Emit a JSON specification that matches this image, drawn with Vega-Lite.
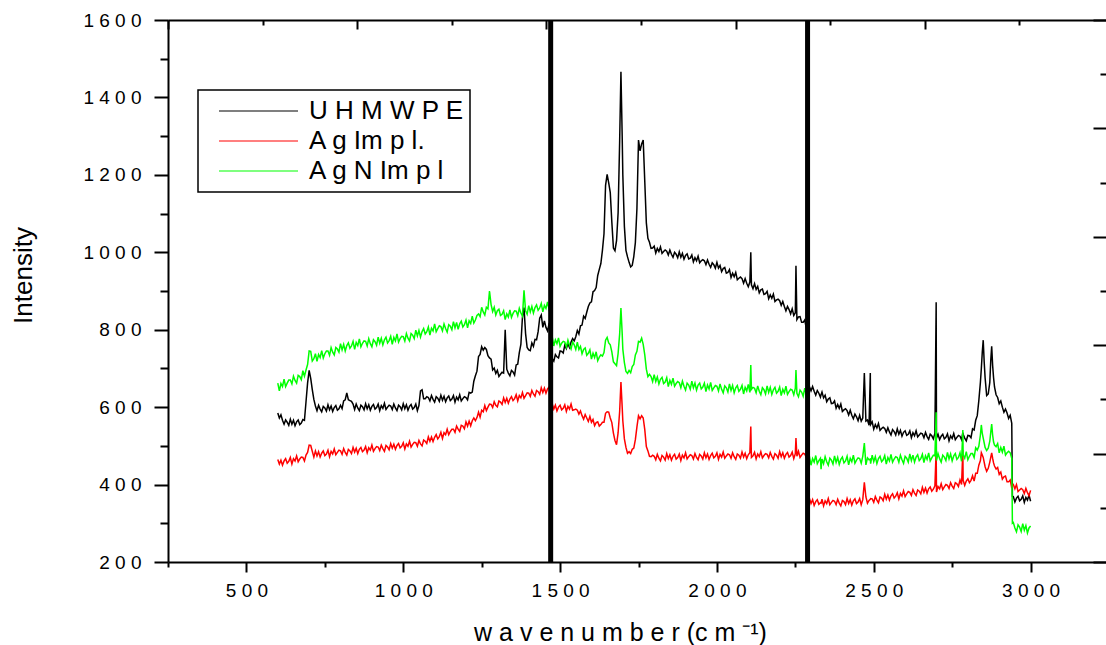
{
  "$schema": "https://vega.github.io/schema/vega-lite/v6.json",
  "width": 941,
  "height": 542,
  "autosize": "none",
  "padding": {"left": 168, "top": 20, "right": 0, "bottom": 83},
  "background": "white",
  "config": {
    "view": {"stroke": null},
    "axis": {"grid": false, "domainColor": "#000", "domainWidth": 2, "tickColor": "#000", "tickWidth": 2, "labelFont": "Liberation Sans", "labelFontSize": 19, "labelColor": "#000", "titleFont": "Liberation Sans", "titleFontWeight": "normal", "titleColor": "#000", "labelFlush": false, "labelOverlap": false},
    "legend": {"strokeWidth": 1.5}
  },
  "layer": [
    {
      "layer": [
        {
          "data": {"values": [
{"w":600,"U":585,"A":465,"G":662},{"w":605,"U":572,"A":453,"G":642},{"w":610,"U":580,"A":463,"G":661},{"w":615,"U":566,"A":450,"G":653},
{"w":620,"U":556,"A":461,"G":672},{"w":625,"U":567,"A":467,"G":653},{"w":630,"U":561,"A":455,"G":662},{"w":635,"U":553,"A":460,"G":670},
{"w":640,"U":569,"A":470,"G":670},{"w":645,"U":556,"A":453,"G":660},{"w":650,"U":566,"A":467,"G":680},{"w":655,"U":552,"A":461,"G":669},
{"w":660,"U":562,"A":474,"G":662},{"w":665,"U":567,"A":459,"G":682},{"w":670,"U":555,"A":466,"G":679},{"w":675,"U":559,"A":471,"G":671},
{"w":680,"U":568,"A":470,"G":694},{"w":685,"U":566,"A":461,"G":680},{"w":690,"U":614,"A":476,"G":696},{"w":695,"U":662,"A":483,"G":710},
{"w":700,"U":695,"A":502,"G":745},{"w":705,"U":674,"A":501,"G":744},{"w":710,"U":645,"A":486,"G":719},{"w":715,"U":620,"A":471,"G":725},
{"w":720,"U":603,"A":487,"G":738},{"w":725,"U":591,"A":474,"G":718},{"w":730,"U":605,"A":485,"G":736},{"w":735,"U":595,"A":471,"G":728},
{"w":740,"U":588,"A":481,"G":746},{"w":745,"U":602,"A":487,"G":727},{"w":750,"U":598,"A":475,"G":738},{"w":755,"U":590,"A":479,"G":745},
{"w":760,"U":606,"A":489,"G":745},{"w":765,"U":593,"A":472,"G":734},{"w":770,"U":603,"A":486,"G":754},{"w":775,"U":589,"A":479,"G":742},
{"w":780,"U":599,"A":492,"G":735},{"w":785,"U":604,"A":477,"G":754},{"w":790,"U":592,"A":483,"G":750},{"w":795,"U":596,"A":489,"G":742},
{"w":800,"U":605,"A":487,"G":764},{"w":805,"U":596,"A":478,"G":748},{"w":810,"U":616,"A":493,"G":762},{"w":815,"U":619,"A":483,"G":745},
{"w":820,"U":637,"A":476,"G":759},{"w":825,"U":619,"A":491,"G":766},{"w":830,"U":617,"A":487,"G":752},{"w":835,"U":615,"A":480,"G":758},
{"w":840,"U":608,"A":496,"G":770},{"w":845,"U":594,"A":484,"G":749},{"w":850,"U":608,"A":494,"G":767},{"w":855,"U":598,"A":480,"G":759},
{"w":860,"U":591,"A":491,"G":776},{"w":865,"U":605,"A":496,"G":756},{"w":870,"U":601,"A":485,"G":765},{"w":875,"U":593,"A":489,"G":771},
{"w":880,"U":609,"A":498,"G":770},{"w":885,"U":596,"A":482,"G":758},{"w":890,"U":606,"A":495,"G":777},{"w":895,"U":592,"A":489,"G":764},
{"w":900,"U":602,"A":502,"G":756},{"w":905,"U":607,"A":486,"G":774},{"w":910,"U":595,"A":493,"G":769},{"w":915,"U":599,"A":498,"G":760},
{"w":920,"U":608,"A":497,"G":781},{"w":925,"U":591,"A":488,"G":765},{"w":930,"U":604,"A":502,"G":778},{"w":935,"U":597,"A":493,"G":761},
{"w":940,"U":610,"A":486,"G":774},{"w":945,"U":594,"A":501,"G":781},{"w":950,"U":600,"A":497,"G":766},{"w":955,"U":605,"A":490,"G":772},
{"w":960,"U":603,"A":506,"G":783},{"w":965,"U":594,"A":494,"G":762},{"w":970,"U":608,"A":504,"G":780},{"w":975,"U":598,"A":491,"G":771},
{"w":980,"U":591,"A":501,"G":789},{"w":985,"U":605,"A":506,"G":768},{"w":990,"U":601,"A":495,"G":777},{"w":995,"U":593,"A":499,"G":783},
{"w":1000,"U":609,"A":508,"G":782},{"w":1005,"U":596,"A":492,"G":771},{"w":1010,"U":606,"A":505,"G":790},{"w":1015,"U":592,"A":499,"G":778},
{"w":1020,"U":602,"A":512,"G":771},{"w":1025,"U":607,"A":497,"G":790},{"w":1030,"U":595,"A":504,"G":786},{"w":1035,"U":599,"A":509,"G":777},
{"w":1040,"U":608,"A":508,"G":799},{"w":1045,"U":591,"A":499,"G":784},{"w":1050,"U":604,"A":514,"G":798},{"w":1055,"U":642,"A":505,"G":781},
{"w":1060,"U":645,"A":500,"G":795},{"w":1065,"U":622,"A":515,"G":803},{"w":1070,"U":622,"A":512,"G":789},{"w":1075,"U":627,"A":506,"G":795},
{"w":1080,"U":625,"A":523,"G":807},{"w":1085,"U":616,"A":512,"G":786},{"w":1090,"U":630,"A":523,"G":804},{"w":1095,"U":620,"A":511,"G":797},
{"w":1100,"U":613,"A":522,"G":815},{"w":1105,"U":627,"A":529,"G":795},{"w":1110,"U":623,"A":518,"G":803},{"w":1115,"U":615,"A":524,"G":810},
{"w":1120,"U":631,"A":535,"G":808},{"w":1125,"U":618,"A":519,"G":797},{"w":1130,"U":628,"A":534,"G":815},{"w":1135,"U":614,"A":529,"G":803},
{"w":1140,"U":624,"A":543,"G":794},{"w":1145,"U":629,"A":529,"G":813},{"w":1150,"U":617,"A":537,"G":809},{"w":1155,"U":621,"A":543,"G":800},
{"w":1160,"U":630,"A":543,"G":821},{"w":1165,"U":613,"A":535,"G":805},{"w":1170,"U":626,"A":551,"G":819},{"w":1175,"U":619,"A":543,"G":801},
{"w":1180,"U":632,"A":537,"G":815},{"w":1185,"U":616,"A":553,"G":822},{"w":1190,"U":622,"A":551,"G":807},{"w":1195,"U":627,"A":544,"G":813},
{"w":1200,"U":625,"A":562,"G":825},{"w":1205,"U":619,"A":551,"G":805},{"w":1210,"U":638,"A":564,"G":823},{"w":1215,"U":636,"A":552,"G":816},
{"w":1220,"U":639,"A":565,"G":835},{"w":1225,"U":667,"A":572,"G":817},{"w":1230,"U":681,"A":565,"G":825},{"w":1235,"U":693,"A":573,"G":837},
{"w":1240,"U":731,"A":587,"G":841},{"w":1245,"U":736,"A":574,"G":834},{"w":1250,"U":756,"A":592,"G":858},{"w":1255,"U":747,"A":588,"G":846},
{"w":1260,"U":754,"A":604,"G":838},{"w":1265,"U":749,"A":591,"G":858},{"w":1270,"U":733,"A":600,"G":854},{"w":1275,"U":727,"A":608,"G":900},
{"w":1280,"U":724,"A":607,"G":865},{"w":1285,"U":696,"A":599,"G":847},{"w":1290,"U":701,"A":614,"G":858},{"w":1295,"U":687,"A":605,"G":838},
{"w":1300,"U":695,"A":601,"G":849},{"w":1305,"U":679,"A":616,"G":853},{"w":1310,"U":685,"A":613,"G":837},{"w":1315,"U":690,"A":607,"G":840},
{"w":1320,"U":688,"A":624,"G":849},{"w":1325,"U":800,"A":612,"G":826},{"w":1330,"U":698,"A":623,"G":841},{"w":1335,"U":688,"A":610,"G":833},
{"w":1340,"U":681,"A":621,"G":851},{"w":1345,"U":695,"A":627,"G":832},{"w":1350,"U":691,"A":617,"G":842},{"w":1355,"U":683,"A":622,"G":849},
{"w":1360,"U":709,"A":632,"G":848},{"w":1365,"U":711,"A":616,"G":836},{"w":1370,"U":741,"A":630,"G":855},{"w":1375,"U":762,"A":624,"G":843},
{"w":1380,"U":832,"A":638,"G":835},{"w":1385,"U":857,"A":623,"G":902},{"w":1390,"U":790,"A":630,"G":849},{"w":1395,"U":754,"A":637,"G":840},
{"w":1400,"U":748,"A":636,"G":862},{"w":1405,"U":746,"A":628,"G":846},{"w":1410,"U":766,"A":643,"G":860},{"w":1415,"U":757,"A":634,"G":843},
{"w":1420,"U":775,"A":628,"G":857},{"w":1425,"U":774,"A":643,"G":864},{"w":1430,"U":795,"A":640,"G":850},{"w":1435,"U":830,"A":633,"G":856},
{"w":1440,"U":838,"A":650,"G":868},{"w":1445,"U":806,"A":638,"G":846},{"w":1450,"U":823,"A":649,"G":863},{"w":1455,"U":806,"A":636,"G":855},
{"w":1460,"U":797,"A":647,"G":872},{"w":1465,"U":815,"A":652,"G":852},{"w":1470,"U":813,"A":641,"G":860},
{"w":1472,"U":718,"A":602,"G":775},{"w":1475,"U":725,"A":608,"G":781},{"w":1480,"U":719,"A":595,"G":758},{"w":1485,"U":736,"A":605,"G":774},
{"w":1490,"U":730,"A":590,"G":764},{"w":1495,"U":727,"A":600,"G":779},{"w":1500,"U":745,"A":605,"G":757},{"w":1505,"U":744,"A":593,"G":765},
{"w":1510,"U":740,"A":597,"G":770},{"w":1515,"U":760,"A":606,"G":768},{"w":1520,"U":751,"A":589,"G":755},{"w":1525,"U":764,"A":602,"G":773},
{"w":1530,"U":754,"A":595,"G":760},{"w":1535,"U":768,"A":608,"G":750},{"w":1540,"U":777,"A":592,"G":768},{"w":1545,"U":771,"A":593,"G":761},
{"w":1550,"U":782,"A":595,"G":749},{"w":1555,"U":798,"A":592,"G":768},{"w":1560,"U":789,"A":582,"G":749},{"w":1565,"U":810,"A":590,"G":757},
{"w":1570,"U":812,"A":578,"G":738},{"w":1575,"U":835,"A":569,"G":749},{"w":1580,"U":829,"A":581,"G":753},{"w":1585,"U":845,"A":572,"G":734},
{"w":1590,"U":860,"A":563,"G":739},{"w":1595,"U":869,"A":576,"G":748},{"w":1600,"U":872,"A":561,"G":724},{"w":1605,"U":898,"A":568,"G":739},
{"w":1610,"U":901,"A":552,"G":728},{"w":1615,"U":909,"A":560,"G":743},{"w":1620,"U":940,"A":562,"G":720},{"w":1625,"U":956,"A":551,"G":729},
{"w":1630,"U":971,"A":555,"G":735},{"w":1635,"U":1005,"A":561,"G":732},{"w":1640,"U":1048,"A":561,"G":741},{"w":1645,"U":1173,"A":584,"G":773},
{"w":1650,"U":1201,"A":588,"G":780},{"w":1655,"U":1179,"A":587,"G":766},{"w":1660,"U":1154,"A":572,"G":761},{"w":1665,"U":1078,"A":560,"G":743},
{"w":1670,"U":1011,"A":533,"G":717},{"w":1675,"U":1004,"A":514,"G":712},{"w":1680,"U":1030,"A":503,"G":707},{"w":1685,"U":1102,"A":534,"G":739},
{"w":1690,"U":1290,"A":590,"G":790},{"w":1694,"U":1466,"A":665,"G":856},{"w":1698,"U":1300,"A":600,"G":790},{"w":1700,"U":1200,"A":565,"G":750},
{"w":1705,"U":1067,"A":518,"G":715},{"w":1710,"U":1005,"A":496,"G":692},{"w":1715,"U":988,"A":481,"G":687},{"w":1720,"U":974,"A":485,"G":695},
{"w":1725,"U":962,"A":480,"G":689},{"w":1730,"U":966,"A":491,"G":705},{"w":1735,"U":989,"A":494,"G":710},{"w":1740,"U":1025,"A":516,"G":735},
{"w":1745,"U":1113,"A":549,"G":744},{"w":1750,"U":1290,"A":578,"G":770},{"w":1755,"U":1262,"A":570,"G":768},{"w":1760,"U":1280,"A":578,"G":778},
{"w":1765,"U":1290,"A":572,"G":762},{"w":1770,"U":1183,"A":542,"G":735},{"w":1775,"U":1076,"A":498,"G":698},{"w":1780,"U":1036,"A":487,"G":679},
{"w":1785,"U":1026,"A":473,"G":685},{"w":1790,"U":1010,"A":472,"G":679},{"w":1795,"U":1011,"A":476,"G":666},{"w":1800,"U":1016,"A":473,"G":684},
{"w":1805,"U":998,"A":464,"G":666},{"w":1810,"U":1010,"A":478,"G":678},{"w":1815,"U":1002,"A":468,"G":660},{"w":1820,"U":1014,"A":461,"G":672},
{"w":1825,"U":997,"A":475,"G":677},{"w":1830,"U":1002,"A":471,"G":661},{"w":1835,"U":1006,"A":463,"G":665},{"w":1840,"U":1003,"A":480,"G":676},
{"w":1845,"U":993,"A":467,"G":653},{"w":1850,"U":1006,"A":477,"G":669},{"w":1855,"U":995,"A":463,"G":659},{"w":1860,"U":987,"A":473,"G":675},
{"w":1865,"U":1000,"A":478,"G":654},{"w":1870,"U":995,"A":466,"G":661},{"w":1875,"U":986,"A":470,"G":666},{"w":1880,"U":1001,"A":479,"G":663},
{"w":1885,"U":987,"A":462,"G":650},{"w":1890,"U":997,"A":476,"G":667},{"w":1895,"U":982,"A":469,"G":654},{"w":1900,"U":992,"A":482,"G":644},
{"w":1905,"U":996,"A":466,"G":662},{"w":1910,"U":983,"A":472,"G":657},{"w":1915,"U":985,"A":477,"G":646},{"w":1920,"U":993,"A":475,"G":667},
{"w":1925,"U":975,"A":466,"G":650},{"w":1930,"U":986,"A":480,"G":662},{"w":1935,"U":978,"A":470,"G":644},{"w":1940,"U":990,"A":464,"G":657},
{"w":1945,"U":973,"A":478,"G":662},{"w":1950,"U":978,"A":474,"G":647},{"w":1955,"U":981,"A":466,"G":652},{"w":1960,"U":978,"A":482,"G":662},
{"w":1965,"U":968,"A":469,"G":640},{"w":1970,"U":980,"A":479,"G":657},{"w":1975,"U":969,"A":465,"G":647},{"w":1980,"U":961,"A":475,"G":664},
{"w":1985,"U":973,"A":481,"G":643},{"w":1990,"U":968,"A":469,"G":650},{"w":1995,"U":959,"A":473,"G":656},{"w":2000,"U":974,"A":482,"G":654},
{"w":2005,"U":959,"A":465,"G":642},{"w":2010,"U":966,"A":478,"G":660},{"w":2015,"U":950,"A":471,"G":646},{"w":2020,"U":958,"A":484,"G":637},
{"w":2025,"U":961,"A":468,"G":655},{"w":2030,"U":946,"A":474,"G":650},{"w":2035,"U":948,"A":479,"G":639},{"w":2040,"U":955,"A":477,"G":660},
{"w":2045,"U":935,"A":468,"G":643},{"w":2050,"U":946,"A":482,"G":656},{"w":2055,"U":937,"A":472,"G":637},{"w":2060,"U":948,"A":465,"G":650},
{"w":2065,"U":929,"A":479,"G":656},{"w":2070,"U":933,"A":476,"G":641},{"w":2075,"U":936,"A":468,"G":646},{"w":2080,"U":932,"A":484,"G":656},
{"w":2085,"U":920,"A":471,"G":634},{"w":2090,"U":932,"A":481,"G":651},{"w":2095,"U":920,"A":467,"G":642},{"w":2100,"U":911,"A":477,"G":659},
{"w":2105,"U":923,"A":482,"G":638},{"w":2108,"U":1000,"A":550,"G":709},{"w":2110,"U":916,"A":470,"G":646},{"w":2115,"U":906,"A":474,"G":651},
{"w":2120,"U":919,"A":483,"G":649},{"w":2125,"U":904,"A":466,"G":637},{"w":2130,"U":912,"A":479,"G":655},{"w":2135,"U":895,"A":472,"G":641},
{"w":2140,"U":903,"A":485,"G":632},{"w":2145,"U":905,"A":469,"G":650},{"w":2150,"U":891,"A":475,"G":645},{"w":2155,"U":893,"A":480,"G":634},
{"w":2160,"U":899,"A":478,"G":655},{"w":2165,"U":880,"A":469,"G":638},{"w":2170,"U":890,"A":483,"G":651},{"w":2175,"U":881,"A":473,"G":633},
{"w":2180,"U":892,"A":466,"G":645},{"w":2185,"U":873,"A":480,"G":651},{"w":2190,"U":877,"A":476,"G":636},{"w":2195,"U":879,"A":468,"G":641},
{"w":2200,"U":875,"A":485,"G":652},{"w":2205,"U":863,"A":472,"G":630},{"w":2210,"U":873,"A":482,"G":646},{"w":2215,"U":860,"A":468,"G":637},
{"w":2220,"U":849,"A":478,"G":654},{"w":2225,"U":860,"A":483,"G":633},{"w":2230,"U":852,"A":471,"G":640},{"w":2235,"U":841,"A":475,"G":646},
{"w":2240,"U":854,"A":484,"G":644},{"w":2245,"U":837,"A":467,"G":632},{"w":2250,"U":844,"A":480,"G":649},{"w":2252,"U":965,"A":520,"G":696},
{"w":2255,"U":826,"A":473,"G":636},{"w":2260,"U":833,"A":486,"G":627},{"w":2265,"U":834,"A":470,"G":644},{"w":2270,"U":819,"A":476,"G":639},
{"w":2275,"U":819,"A":481,"G":628},{"w":2280,"U":825,"A":479,"G":649},{"w":2285,"U":804,"A":470,"G":631},{"w":2290,"U":814,"A":484,"G":644},
{"w":2292,"U":655,"A":358,"G":466},{"w":2295,"U":653,"A":364,"G":472},{"w":2300,"U":642,"A":351,"G":450},{"w":2305,"U":653,"A":361,"G":467},
{"w":2310,"U":641,"A":346,"G":458},{"w":2315,"U":631,"A":356,"G":475},{"w":2320,"U":643,"A":361,"G":454},{"w":2325,"U":636,"A":349,"G":462},
{"w":2330,"U":626,"A":353,"G":468},{"w":2332,"U":632,"A":352,"G":440},{"w":2335,"U":639,"A":362,"G":466},{"w":2340,"U":624,"A":345,"G":454},
{"w":2345,"U":631,"A":358,"G":472},{"w":2350,"U":614,"A":351,"G":459},{"w":2355,"U":621,"A":364,"G":450},{"w":2360,"U":624,"A":348,"G":468},
{"w":2365,"U":609,"A":354,"G":463},{"w":2370,"U":610,"A":359,"G":453},{"w":2375,"U":616,"A":357,"G":474},{"w":2380,"U":597,"A":348,"G":457},
{"w":2385,"U":607,"A":362,"G":470},{"w":2390,"U":597,"A":352,"G":452},{"w":2395,"U":608,"A":345,"G":465},{"w":2400,"U":589,"A":359,"G":471},
{"w":2405,"U":593,"A":356,"G":456},{"w":2410,"U":596,"A":348,"G":461},{"w":2415,"U":591,"A":364,"G":473},{"w":2420,"U":580,"A":351,"G":451},
{"w":2425,"U":592,"A":361,"G":468},{"w":2430,"U":579,"A":347,"G":459},{"w":2435,"U":570,"A":358,"G":476},{"w":2440,"U":582,"A":363,"G":455},
{"w":2445,"U":575,"A":351,"G":463},{"w":2450,"U":565,"A":355,"G":469},{"w":2455,"U":579,"A":364,"G":467},{"w":2460,"U":564,"A":348,"G":455},
{"w":2465,"U":572,"A":361,"G":473},{"w":2470,"U":688,"A":406,"G":507},{"w":2475,"U":564,"A":368,"G":451},{"w":2480,"U":567,"A":352,"G":469},
{"w":2485,"U":553,"A":359,"G":464},{"w":2489,"U":688,"A":362,"G":466},{"w":2490,"U":555,"A":364,"G":454},{"w":2495,"U":562,"A":363,"G":476},
{"w":2500,"U":543,"A":354,"G":459},{"w":2505,"U":555,"A":369,"G":472},{"w":2510,"U":546,"A":360,"G":454},{"w":2515,"U":558,"A":353,"G":467},
{"w":2520,"U":540,"A":368,"G":473},{"w":2525,"U":545,"A":365,"G":459},{"w":2530,"U":548,"A":358,"G":464},{"w":2535,"U":545,"A":375,"G":475},
{"w":2540,"U":535,"A":362,"G":453},{"w":2545,"U":547,"A":373,"G":470},{"w":2550,"U":536,"A":360,"G":461},{"w":2555,"U":528,"A":371,"G":478},
{"w":2560,"U":542,"A":376,"G":458},{"w":2565,"U":537,"A":365,"G":466},{"w":2570,"U":528,"A":370,"G":472},{"w":2575,"U":544,"A":379,"G":470},
{"w":2580,"U":530,"A":363,"G":458},{"w":2585,"U":540,"A":377,"G":476},{"w":2590,"U":525,"A":370,"G":464},{"w":2595,"U":535,"A":384,"G":455},
{"w":2600,"U":539,"A":369,"G":473},{"w":2605,"U":527,"A":376,"G":468},{"w":2610,"U":530,"A":382,"G":458},{"w":2615,"U":539,"A":380,"G":479},
{"w":2620,"U":521,"A":372,"G":462},{"w":2625,"U":534,"A":387,"G":476},{"w":2630,"U":526,"A":378,"G":458},{"w":2635,"U":539,"A":372,"G":471},
{"w":2640,"U":523,"A":386,"G":477},{"w":2645,"U":528,"A":383,"G":462},{"w":2650,"U":533,"A":376,"G":467},{"w":2655,"U":531,"A":393,"G":478},
{"w":2660,"U":521,"A":380,"G":457},{"w":2665,"U":535,"A":391,"G":474},{"w":2670,"U":524,"A":378,"G":465},{"w":2675,"U":517,"A":389,"G":482},
{"w":2680,"U":530,"A":394,"G":461},{"w":2685,"U":526,"A":383,"G":469},{"w":2690,"U":518,"A":388,"G":476},{"w":2695,"U":533,"A":397,"G":474},
{"w":2699,"U":871,"A":489,"G":587},{"w":2700,"U":520,"A":381,"G":462},{"w":2705,"U":530,"A":395,"G":480},{"w":2710,"U":516,"A":389,"G":467},
{"w":2715,"U":525,"A":402,"G":458},{"w":2720,"U":530,"A":387,"G":476},{"w":2725,"U":518,"A":394,"G":471},{"w":2730,"U":522,"A":400,"G":462},
{"w":2735,"U":531,"A":398,"G":483},{"w":2740,"U":513,"A":390,"G":466},{"w":2745,"U":526,"A":405,"G":479},{"w":2750,"U":519,"A":396,"G":461},
{"w":2755,"U":532,"A":390,"G":474},{"w":2760,"U":516,"A":405,"G":480},{"w":2765,"U":522,"A":402,"G":465},{"w":2770,"U":527,"A":395,"G":470},
{"w":2775,"U":525,"A":412,"G":482},{"w":2780,"U":516,"A":400,"G":460},{"w":2784,"U":534,"A":489,"G":541},{"w":2785,"U":530,"A":411,"G":477},
{"w":2790,"U":520,"A":398,"G":468},{"w":2795,"U":513,"A":409,"G":485},{"w":2800,"U":527,"A":415,"G":464},{"w":2805,"U":526,"A":405,"G":473},
{"w":2810,"U":521,"A":411,"G":480},{"w":2815,"U":544,"A":423,"G":480},{"w":2820,"U":541,"A":409,"G":470},{"w":2825,"U":566,"A":429,"G":495},
{"w":2830,"U":578,"A":429,"G":489},{"w":2835,"U":617,"A":450,"G":499},{"w":2840,"U":664,"A":462,"G":528},{"w":2843,"U":700,"A":482,"G":554},
{"w":2846,"U":742,"A":476,"G":532},{"w":2849,"U":773,"A":470,"G":520},{"w":2852,"U":718,"A":458,"G":508},{"w":2855,"U":676,"A":446,"G":496},
{"w":2860,"U":630,"A":434,"G":488},{"w":2865,"U":634,"A":442,"G":494},{"w":2870,"U":664,"A":458,"G":512},{"w":2873,"U":720,"A":470,"G":535},
{"w":2876,"U":757,"A":482,"G":556},{"w":2879,"U":708,"A":468,"G":528},{"w":2882,"U":676,"A":456,"G":510},{"w":2885,"U":652,"A":448,"G":502},
{"w":2890,"U":632,"A":440,"G":498},{"w":2895,"U":625,"A":444,"G":506},{"w":2900,"U":609,"A":426,"G":482},{"w":2905,"U":616,"A":432,"G":496},
{"w":2910,"U":600,"A":414,"G":484},{"w":2915,"U":587,"A":420,"G":499},{"w":2920,"U":595,"A":422,"G":476},{"w":2925,"U":585,"A":407,"G":482},
{"w":2930,"U":571,"A":407,"G":486},{"w":2935,"U":579,"A":412,"G":482},{"w":2940,"U":558,"A":391,"G":468},{"w":2942,"U":370,"A":398,"G":300},
{"w":2945,"U":369,"A":400,"G":302},{"w":2950,"U":355,"A":389,"G":288},{"w":2955,"U":365,"A":400,"G":278},{"w":2960,"U":370,"A":382,"G":296},
{"w":2965,"U":358,"A":386,"G":290},{"w":2970,"U":362,"A":390,"G":279},{"w":2975,"U":371,"A":387,"G":299},{"w":2980,"U":354,"A":377,"G":282},
{"w":2985,"U":367,"A":390,"G":294},{"w":2990,"U":360,"A":379,"G":275},{"w":2995,"U":373,"A":371,"G":288},{"w":3000,"U":357,"A":385,"G":293}
          ]},
          "transform": [{"fold": ["U", "A", "G"], "as": ["s", "v"]}],
          "mark": {"type": "line", "strokeWidth": 1.5, "clip": true},
          "encoding": {
            "x": {
              "field": "w", "type": "quantitative",
              "scale": {"domain": [250, 3250], "nice": false, "zero": false},
              "axis": {
                "orient": "bottom",
                "values": [250, 500, 750, 1000, 1250, 1500, 1750, 2000, 2250, 2500, 2750, 3000],
                "format": "d",
                "labelExpr": "datum.value % 500 === 0 ? join(split(datum.label, ''), ' ') : ''",
                "tickSize": {"condition": {"test": "datum.value % 500 !== 0", "value": 5}, "value": 10},
                "labelPadding": 9,
                "title": "w a v e n u m b e r (c m \u207b\u00b9)",
                "titleFontSize": 25,
                "titleX": 452,
                "titleY": 78,
                "titleBaseline": "alphabetic",
                "titleAlign": "center"
              }
            },
            "y": {
              "field": "v", "type": "quantitative",
              "scale": {"domain": [200, 1600], "nice": false, "zero": false},
              "axis": {
                "orient": "left",
                "values": [200, 300, 400, 500, 600, 700, 800, 900, 1000, 1100, 1200, 1300, 1400, 1500, 1600],
                "format": "d",
                "labelExpr": "datum.value % 200 === 0 ? join(split(datum.label, ''), ' ') : ''",
                "tickSize": {"condition": {"test": "datum.value % 200 !== 0", "value": 8}, "value": 14},
                "labelPadding": 13,
                "title": "Intensity",
                "titleFontSize": 26,
                "titleX": -137,
                "titleY": 255,
                "titleAngle": -90,
                "titleBaseline": "alphabetic",
                "titleAlign": "center"
              }
            },
            "color": {
              "field": "s", "type": "nominal",
              "scale": {"domain": ["U", "A", "G"], "range": ["#000000", "#ff0000", "#00ff00"]},
              "legend": {
                "orient": "none",
                "legendX": 30,
                "legendY": 70,
                "title": null,
                "symbolType": "stroke",
                "symbolSize": 6241,
                "symbolStrokeWidth": 1.2,
                "clipHeight": 30,
                "rowPadding": 0,
                "labelFont": "Liberation Sans",
                "labelFontSize": 26,
                "labelColor": "#000",
                "labelOffset": 10,
                "padding": 6,
                "symbolOffset": 14,
                "strokeColor": "#000",
                "fillColor": "white",
                "labelExpr": "datum.value == 'U' ? 'U H M W P E\u00a0\u00a0' : datum.value == 'A' ? 'A g Im p l.' : 'A g N Im p l'"
              }
            }
          }
        },
        {
          "data": {"values": [{"w": 1470}, {"w": 2289}]},
          "mark": {"type": "rule", "strokeWidth": 5, "color": "#000"},
          "encoding": {"x": {"field": "w", "type": "quantitative"}}
        }
      ]
    },
    {
      "data": {"values": [{"t": 0, "r": 0}]},
      "mark": {"type": "point", "opacity": 0},
      "encoding": {
        "x": {
          "field": "t", "type": "quantitative",
          "scale": {"domain": [0, 4.974], "nice": false, "zero": false},
          "axis": {
            "orient": "top", "labels": false, "title": null,
            "values": [0, 0.5, 1, 1.5, 2, 2.5, 3, 3.5, 4, 4.5],
            "tickSize": {"condition": {"test": "datum.value % 1 === 0", "value": -9}, "value": -5}
          }
        },
        "y": {
          "field": "r", "type": "quantitative",
          "scale": {"domain": [0, 5], "nice": false, "zero": false, "reverse": true},
          "axis": {
            "orient": "right", "labels": false, "title": null,
            "values": [0, 0.5, 1, 1.5, 2, 2.5, 3, 3.5, 4, 4.5, 5],
            "tickSize": {"condition": {"test": "datum.value % 1 === 0", "value": -16}, "value": -9}
          }
        }
      }
    }
  ],
  "resolve": {"scale": {"x": "independent", "y": "independent"}, "axis": {"x": "independent", "y": "independent"}}
}
